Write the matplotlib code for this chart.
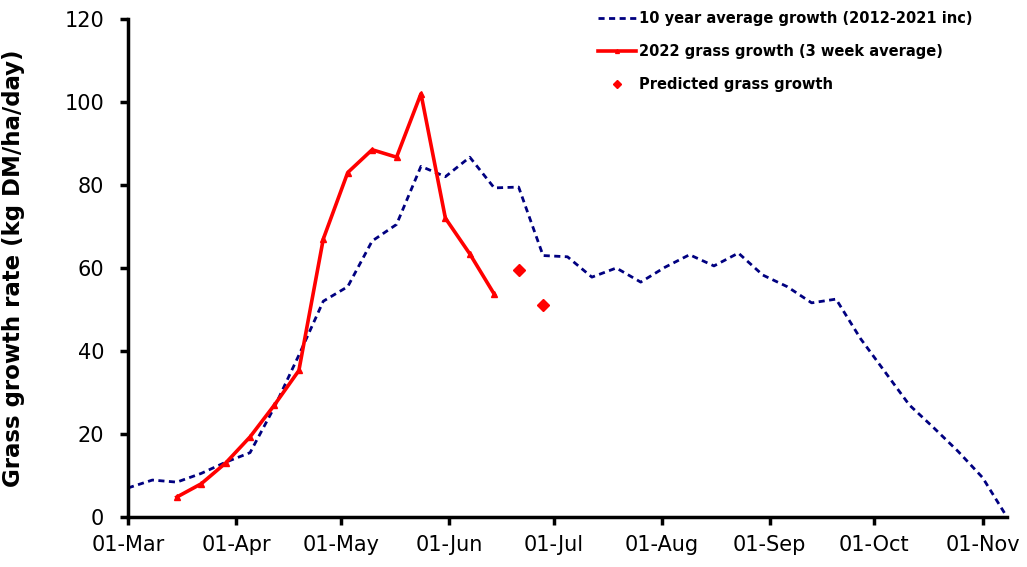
import numpy as np
import matplotlib
matplotlib.use("Agg")
import matplotlib.pyplot as plt
import matplotlib.dates as mdates

plt.rcParams['font.family'] = ['DejaVu Sans']

# 10 year average (weekly, from 01-Mar)
avg_dates = np.arange(np.datetime64('2022-03-01'), np.datetime64('2022-11-09'), np.timedelta64(7, 'D'))
avg_vals = [7, 8.9, 8.4, 10.5, 13.2, 15.5, 26.5, 39, 52, 55.5, 66.5, 70.5, 84.5, 82,
            86.7, 79.3, 79.5, 63, 62.7, 57.8, 60, 56.6, 60.2, 63.2, 60.5, 63.6, 58.3,
            55.5, 51.6, 52.5, 43, 35, 27, 21.5, 15.8, 9.5, 0]

# 2022 growth (3 week average)
g22_dates = np.arange(np.datetime64('2022-03-15'), np.datetime64('2022-06-15'), np.timedelta64(7, 'D'))
g22_vals = [4.8, 8, 13, 19.3, 27, 35.3, 67, 83, 88.5, 86.7, 102, 72, 63.4, 53.7]

# predicted
pred_dates = np.array(['2022-06-21', '2022-06-28'], dtype='datetime64[D]')
pred_vals = [59.5, 51]

fig = plt.figure(figsize=(10.27, 5.67), dpi=100)
ax = fig.add_axes([0.1246, 0.0882, 0.8559, 0.8783])

ax.plot(avg_dates, avg_vals, color='#000080', lw=2, ls=(0, (2.2, 1.6)),
        label='10 year average growth (2012-2021 inc)')
ax.plot(g22_dates, g22_vals, color='#ff0000', lw=2.6, marker='^', ms=4,
        label='2022 grass growth (3 week average)')
ax.plot(pred_dates, pred_vals, ls='none', marker='D', color='#ff0000', ms=6.5,
        label='Predicted grass growth')

ax.set_xlim(np.datetime64('2022-03-01'), np.datetime64('2022-11-08'))
ax.set_ylim(0, 120)
ax.set_yticks(range(0, 121, 20))
ax.xaxis.set_major_locator(mdates.MonthLocator())
ax.xaxis.set_major_formatter(mdates.DateFormatter('%d-%b'))

for s in ['top', 'right']:
    ax.spines[s].set_visible(False)
for s in ['left', 'bottom']:
    ax.spines[s].set_linewidth(2.5)
ax.tick_params(width=2.5, length=6, labelsize=15, direction='out')
ax.tick_params(axis='y', pad=11)
ax.tick_params(axis='x', pad=7)
ax.set_ylabel('Grass growth rate (kg DM/ha/day)', fontsize=16.5, fontweight='bold')
ax.yaxis.set_label_coords(-0.117, 0.5)

leg = ax.legend(loc='upper left', bbox_to_anchor=(0.52, 1.043), frameon=False,
                prop={'weight': 'bold', 'size': 10.5}, handlelength=2.6, handletextpad=0.2,
                labelspacing=1.25, markerscale=0.7)

fig.savefig('out.png', dpi=100)
